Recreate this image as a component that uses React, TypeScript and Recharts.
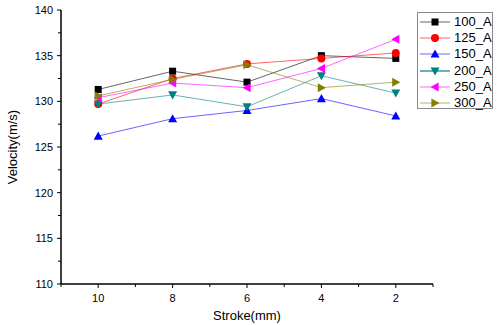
import { LineChart, Line, XAxis, YAxis } from "recharts";

const strokes = [10, 8, 6, 4, 2];
const v100 = [131.3, 133.3, 132.1, 135.0, 134.7];
const v125 = [129.7, 132.5, 134.1, 134.7, 135.3];
const v150 = [126.2, 128.1, 129.0, 130.3, 128.4];
const v200 = [129.7, 130.7, 129.4, 132.8, 130.9];
const v250 = [130.4, 132.0, 131.5, 133.6, 136.8];
const v300 = [130.6, 132.4, 134.0, 131.5, 132.1];

const seriesNames = ["100_A", "125_A", "150_A", "200_A", "250_A", "300_A"];
const seriesValues = [v100, v125, v150, v200, v250, v300];
const seriesColors = ["#000000", "#ff0000", "#0000ff", "#008080", "#ff00ff", "#808000"];
const seriesMarkers = ["square", "circle", "up", "down", "left", "right"];

const xTicks = [11, 10, 9, 8, 7, 6, 5, 4, 3, 2, 1];
const yTicks = [110, 112.5, 115, 117.5, 120, 122.5, 125, 127.5, 130, 132.5, 135, 137.5, 140];

const data = strokes.map((s, i) => {
  const row: Record<string, number> = { stroke: s };
  seriesNames.forEach((n, k) => (row[n] = seriesValues[k][i]));
  return row;
});

const FONT = "'Liberation Sans', Arial, sans-serif";

function Marker({ kind, cx, cy, color }: { kind: string; cx: number; cy: number; color: string }) {
  const s = 4.5;
  switch (kind) {
    case "square":
      return <rect x={cx - 3.5} y={cy - 3.5} width={7} height={7} fill={color} />;
    case "circle":
      return <circle cx={cx} cy={cy} r={4} fill={color} />;
    case "up":
      return <polygon points={`${cx},${cy - s} ${cx + s},${cy + s * 0.8} ${cx - s},${cy + s * 0.8}`} fill={color} />;
    case "down":
      return <polygon points={`${cx},${cy + s} ${cx + s},${cy - s * 0.8} ${cx - s},${cy - s * 0.8}`} fill={color} />;
    case "left":
      return <polygon points={`${cx - s},${cy} ${cx + s * 0.8},${cy - s} ${cx + s * 0.8},${cy + s}`} fill={color} />;
    default:
      return <polygon points={`${cx + s},${cy} ${cx - s * 0.8},${cy - s} ${cx - s * 0.8},${cy + s}`} fill={color} />;
  }
}

const XTick = (props: any) => {
  const { x, y, payload } = props;
  const major = payload.value % 2 === 0 && payload.value !== 0;
  return (
    <g>
      <line x1={x} x2={x} y1={y} y2={y + (major ? 4 : 3)} stroke="#000" strokeWidth={1} />
      {major && (
        <text x={x} y={y + 18} textAnchor="middle" fontSize={11} fontFamily={FONT} fill="#000">
          {payload.value}
        </text>
      )}
    </g>
  );
};

const YTick = (props: any) => {
  const { x, y, payload } = props;
  const major = payload.value % 5 === 0;
  return (
    <g>
      <line x1={x} x2={x - (major ? 4 : 3)} y1={y} y2={y} stroke="#000" strokeWidth={1} />
      {major && (
        <text x={x - 8} y={y + 4} textAnchor="end" fontSize={11} fontFamily={FONT} fill="#000">
          {payload.value}
        </text>
      )}
    </g>
  );
};

function LegendBox() {
  return (
    <div
      style={{
        position: "absolute",
        left: 417,
        top: 12,
        width: 74,
        height: 95,
        border: "1px solid #888",
        background: "#fff",
        fontFamily: FONT,
        fontSize: 13,
      }}
    >
      {seriesNames.map((n, k) => (
        <div key={n} style={{ position: "absolute", left: 0, top: 1 + k * 16.2, height: 16, display: "flex", alignItems: "center" }}>
          <svg width={36} height={16} style={{ display: "block" }}>
            <line x1={2} x2={32} y1={8} y2={8} stroke={seriesColors[k]} strokeOpacity={0.6} strokeWidth={k === 3 ? 2 : 1} />
            <Marker kind={seriesMarkers[k]} cx={17} cy={8} color={seriesColors[k]} />
          </svg>
          <span style={{ lineHeight: "16px" }}>{n}</span>
        </div>
      ))}
    </div>
  );
}

export default function App() {
  return (
    <div style={{ position: "absolute", left: 0, top: 0, width: 499, height: 325, background: "#fff", fontFamily: FONT }}>
      <LineChart width={499} height={325} data={data} margin={{ top: 10, right: 66, left: 0, bottom: 0 }}>
        <XAxis
          dataKey="stroke"
          type="number"
          domain={[1, 11]}
          reversed
          ticks={xTicks}
          interval={0}
          tickSize={0}
          tickMargin={0}
          tickLine={false}
          tick={<XTick />}
          height={41}
          axisLine={{ stroke: "#000", strokeWidth: 1.5 }}
          label={{ value: "Stroke(mm)", position: "insideBottom", offset: 5, fontSize: 13, fill: "#000", fontFamily: FONT }}
        />
        <YAxis
          type="number"
          domain={[110, 140]}
          ticks={yTicks}
          interval={0}
          tickSize={0}
          tickMargin={0}
          tickLine={false}
          tick={<YTick />}
          width={61}
          axisLine={{ stroke: "#000", strokeWidth: 1.5 }}
          label={{ value: "Velocity(m/s)", angle: -90, position: "insideLeft", offset: 12, fontSize: 13, fill: "#000", fontFamily: FONT, style: { textAnchor: "middle" } }}
        />
        {seriesNames.map((n, k) => (
          <Line
            key={n}
            dataKey={n}
            stroke={seriesColors[k]}
            strokeOpacity={0.6}
            strokeWidth={1}
            isAnimationActive={false}
            dot={(p: any) => <Marker key={`${n}-${p.index}`} kind={seriesMarkers[k]} cx={p.cx} cy={p.cy} color={seriesColors[k]} />}
            activeDot={false}
          />
        ))}
      </LineChart>
      <LegendBox />
    </div>
  );
}
